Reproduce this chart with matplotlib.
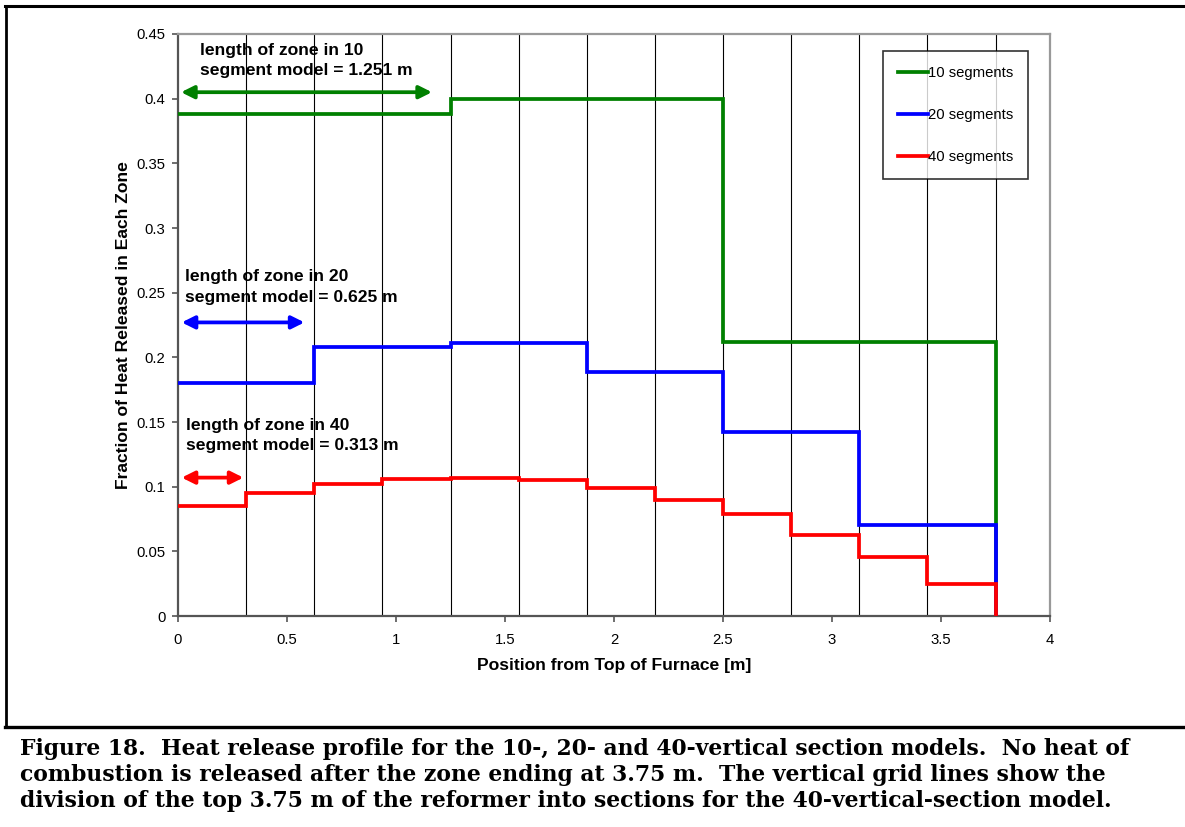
import numpy as np
import matplotlib
matplotlib.use("Agg")
import matplotlib.pyplot as plt
from matplotlib.lines import Line2D

# ---------------- data ----------------
zone_len_10 = 1.25
zone_len_20 = 0.625
zone_len_40 = 0.3125

heat_10 = [0.388, 0.400, 0.212]
heat_20 = [0.180, 0.208, 0.211, 0.189, 0.142, 0.070]
heat_40 = [0.085, 0.095, 0.102, 0.106, 0.107, 0.105,
           0.099, 0.090, 0.079, 0.063, 0.046, 0.025]

series_labels = ["10 segments", "20 segments", "40 segments"]
series_colors = ["#008000", "#0000FF", "#FF0000"]

x_ticks = [0, 0.5, 1, 1.5, 2, 2.5, 3, 3.5, 4]
x_ticklabels = ["0", "0.5", "1", "1.5", "2", "2.5", "3", "3.5", "4"]
y_ticks = [0, 0.05, 0.1, 0.15, 0.2, 0.25, 0.3, 0.35, 0.4, 0.45]
y_ticklabels = ["0", "0.05", "0.1", "0.15", "0.2", "0.25", "0.3", "0.35", "0.4", "0.45"]

annot_texts = ["length of zone in 10\nsegment model = 1.251 m",
               "length of zone in 20\nsegment model = 0.625 m",
               "length of zone in 40\nsegment model = 0.313 m"]

caption_lines = [
    "Figure 18.  Heat release profile for the 10-, 20- and 40-vertical section models.  No heat of",
    "combustion is released after the zone ending at 3.75 m.  The vertical grid lines show the",
    "division of the top 3.75 m of the reformer into sections for the 40-vertical-section model.",
]

# ---------------- figure ----------------
W, H = 1185, 827
fig = plt.figure(figsize=(W / 100, H / 100), dpi=100)
sans = ["Liberation Sans", "Arial", "DejaVu Sans"]
serif = ["DejaVu Serif", "Liberation Serif"]

ax_l, ax_r, ax_t, ax_b = 178, 1050, 34, 616
ax = fig.add_axes([ax_l / W, 1 - ax_b / H, (ax_r - ax_l) / W, (ax_b - ax_t) / H])
ax.set_xlim(0, 4)
ax.set_ylim(0, 0.45)

# vertical division lines (40-section model boundaries)
n40 = len(heat_40)
for k in range(1, n40 + 1):
    ax.axvline(k * zone_len_40, color="black", lw=0.8, zorder=1)

def step_line(values, zl, color, label):
    x = np.arange(len(values) + 1) * zl
    y = list(values) + [0.0]
    ax.plot(x, y, drawstyle="steps-post", color=color, lw=2.7,
            label=label, zorder=3, solid_joinstyle="miter")

step_line(heat_10, zone_len_10, series_colors[0], series_labels[0])
step_line(heat_20, zone_len_20, series_colors[1], series_labels[1])
step_line(heat_40, zone_len_40, series_colors[2], series_labels[2])

# arrows showing zone lengths
arrow_specs = [(0.014, 1.165, 0.405, series_colors[0]),
               (0.017, 0.58, 0.227, series_colors[1]),
               (0.017, 0.30, 0.107, series_colors[2])]
for x0, x1, yv, c in arrow_specs:
    ax.annotate("", xy=(x1, yv), xytext=(x0, yv),
                arrowprops=dict(arrowstyle="<|-|>", color=c, lw=2.7,
                                mutation_scale=19, shrinkA=0, shrinkB=0),
                zorder=4)

annot_pos = [(0.10, 0.4295), (0.031, 0.2545), (0.038, 0.1397)]
for (tx, ty), s in zip(annot_pos, annot_texts):
    ax.text(tx, ty, s, fontsize=12.6, fontweight="bold", family=sans,
            ha="left", va="center", linespacing=1.45, zorder=5)

# ticks / spines
ax.set_xticks(x_ticks)
ax.set_xticklabels(x_ticklabels)
ax.set_yticks(y_ticks)
ax.set_yticklabels(y_ticklabels)
ax.tick_params(direction="out", length=4, width=1.2, colors="#555555",
               labelcolor="black", labelsize=10.7)
ax.tick_params(axis="x", pad=8)
ax.tick_params(axis="y", pad=5)
for lab in ax.get_xticklabels() + ax.get_yticklabels():
    lab.set_family(sans)
for side in ["left", "bottom"]:
    ax.spines[side].set_color("#555555")
    ax.spines[side].set_linewidth(1.6)
for side in ["top", "right"]:
    ax.spines[side].set_color("#999999")
    ax.spines[side].set_linewidth(1.6)

ax.set_xlabel("Position from Top of Furnace [m]", fontsize=12.6,
              fontweight="bold", family=sans, labelpad=8)
ax.set_ylabel("Fraction of Heat Released in Each Zone", fontsize=12.6,
              fontweight="bold", family=sans, labelpad=4)

leg = ax.legend(loc="upper left", bbox_to_anchor=((883 - ax_l) / (ax_r - ax_l),
                (ax_b - 51) / (ax_b - ax_t)), borderaxespad=0,
                fancybox=False, frameon=True, edgecolor="black",
                prop={"family": sans, "size": 10.7}, handlelength=2.0,
                handletextpad=0.05, labelspacing=1.9, borderpad=1.0)
leg.get_frame().set_linewidth(1.2)
leg.set_zorder(6)

# figure borders
def fline(x0, y0, x1, y1, lw):
    fig.add_artist(Line2D([x0 / W, x1 / W], [1 - y0 / H, 1 - y1 / H],
                          color="black", lw=lw, transform=fig.transFigure))

fline(5, 6, W, 6, 2.2)
fline(6, 6, 6, 727, 2.0)
fline(5, 727, W, 727, 2.4)

# caption: fit the first line to the reference width (20 px -> 1130 px)
baselines = [755, 781, 807]
cap_texts = []
for s, b in zip(caption_lines, baselines):
    cap_texts.append(fig.text(20 / W, 1 - b / H, s, fontsize=16,
                              fontweight="bold", family=serif,
                              ha="left", va="baseline"))
renderer = fig.canvas.get_renderer()
w0 = cap_texts[0].get_window_extent(renderer).width
fs = 16 * 1110 / w0
for t in cap_texts:
    t.set_fontsize(fs)

fig.savefig("out.png", dpi=100)
